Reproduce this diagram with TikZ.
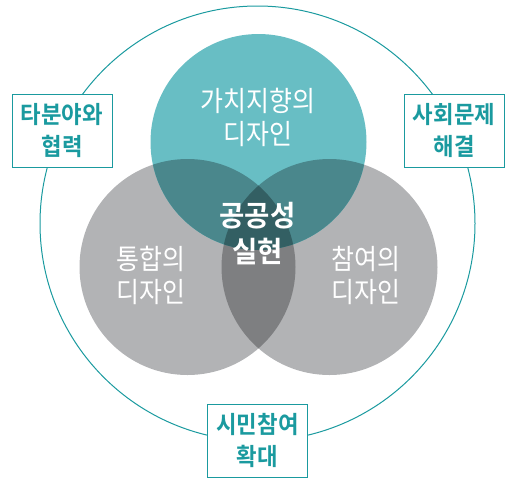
\documentclass[tikz,border=0pt]{standalone}
\usepackage{fontspec}
\setmainfont{Noto Sans CJK KR}[BoldFont={Noto Sans CJK KR Bold}]
\newfontfamily\ringfont{Noto Sans CJK KR}[FakeStretch=0.89]
\newfontfamily\corefont{Noto Sans CJK KR Bold}[FakeStretch=0.95]
\newfontfamily\boxfont{Noto Sans CJK KR Bold}[FakeStretch=0.93]
\usepackage{xcolor}
\usetikzlibrary{positioning}
\definecolor{tealring}{HTML}{1A9A9F}
\definecolor{tealtop}{HTML}{68BEC4}
\definecolor{greyring}{HTML}{B2B3B5}
\definecolor{greymid}{HTML}{7E7F81}
\definecolor{tealmid}{HTML}{4A878C}
\definecolor{tealcore}{HTML}{335F63}

\begin{document}
\begin{tikzpicture}[x=1pt, y=-1pt,
  ring/.style = {circle, minimum size=216pt, inner sep=0pt},
  inner/.style = {text=white, align=center, font=\ringfont\fontsize{28}{33}\selectfont},
  box/.style = {draw=tealring, fill=white, line width=1pt, minimum width=100pt, minimum height=73pt, text=tealring, align=center, font=\boxfont\fontsize{24}{32}\selectfont}]
      \useasboundingbox (0,0) rectangle (511,477);

      % outer ring
      \node[circle, draw=tealring, line width=1pt, minimum size=435pt, inner sep=0pt] (outer) at (257.5,223.5) {};

      % three circles
      \node[ring, fill=greyring] (left) at (187.5,267) {};
      \node[ring, fill=greyring] (right) at (329.5,267) {};
      \node[ring, fill=tealtop] (top) at (258.5,142) {};

      % overlaps
      \begin{scope}
        \clip (left.center) circle (108);
        \fill[greymid] (right.center) circle (108);
        \fill[tealmid] (top.center) circle (108);
      \end{scope}
      \begin{scope}
        \clip (right.center) circle (108);
        \fill[tealmid] (top.center) circle (108);
      \end{scope}
      \begin{scope}
        \clip (left.center) circle (108);
        \clip (right.center) circle (108);
        \fill[tealcore] (top.center) circle (108);
      \end{scope}

      % labels
      \node[inner] (value) at (258,117) {가치지향의\\디자인};
      \node[inner] (merge) at (151,275) {통합의\\디자인};
      \node[inner] (join) at (366,275) {참여의\\디자인};
      \node[inner, font=\corefont\fontsize{29}{36}\selectfont] (core) at (257.5,233.5) {공공성\\실현};

      % boxes
      \node[box] (coop) at (62,130.5) {타분야와\\협력};
      \node[box] (solve) at (454,130.5) {사회문제\\해결};
      \node[box] (civic) at (257.5,440.5) {시민참여\\확대};
    \end{tikzpicture}
\end{document}
